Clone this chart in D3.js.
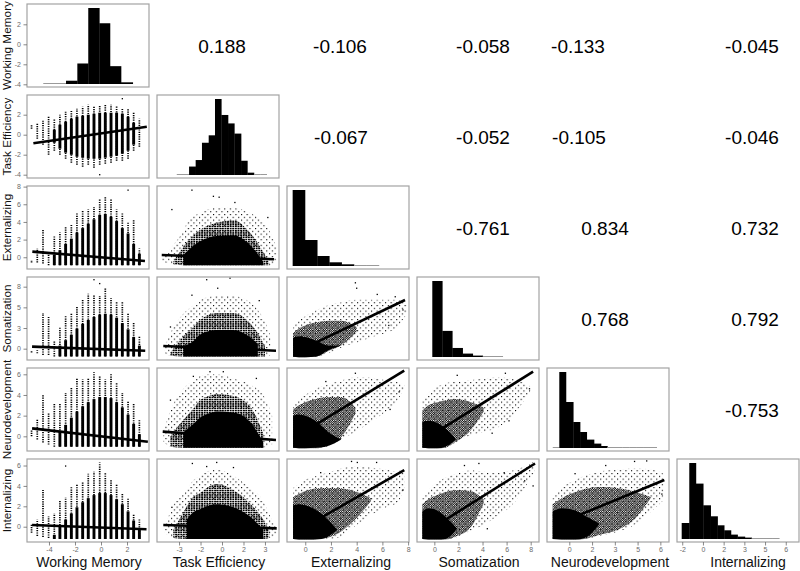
<!DOCTYPE html>
<html><head><meta charset="utf-8">
<script src="https://cdn.jsdelivr.net/npm/d3@7/dist/d3.min.js"></script>
<style>
body{margin:0;background:#fff}
svg{display:block}
text{font-family:"Liberation Sans",Arial,Helvetica,sans-serif}
</style>
</head><body>
<svg id="chart" width="800" height="571"></svg>
<script>
// ---------------- DATA ----------------
const VARS = ["Working Memory","Task Efficiency","Externalizing","Somatization","Neurodevelopment","Internalizing"];
const X_DOMAINS = [[-5.69,3.69],[-4.54,3.98],[-1.42,8.07],[-1.44,8.69],[-1.47,6.57],[-1.88,6.96]];
const Y_DOMAINS = [[-4.27,4.03],[-4.33,3.97],[-1.33,8.07],[-1.46,9.25],[-1.42,6.61],[-1.5,6.64]];
const X_TICKS = [[-4,-2,0,2],[-3,-1.5,0,1.5,3],[0,2,4,6,8],[0,2,4,6,8],[0,1.5,3,4.5,6],[-1.5,0,1.5,3,4.5,6]];
const X_TICK_LABELS = [["-4","-2","0","2"],["-3","-2","0","2","3"],["0","2","4","6","8"],["0","2","4","6","8"],["0","2","3","5","6"],["-2","0","2","3","5","6"]];
const Y_TICKS = [[-4,-2,0,2],[-4,-2,0,2],[0,2,4,6,8],[0,2.667,5.333,8],[0,2,4,6],[0,2,4,6]];
const Y_TICK_LABELS = [["-4","-2","0","2"],["-4","-2","0","2"],["0","2","4","6","8"],["0","3","5","8"],["0","2","4","6"],["0","2","4","6"]];

// correlations (upper triangle)
const CORR_ROW = [0,0,0,0,0, 1,1,1,1, 2,2,2, 3,3, 4];
const CORR_COL = [1,2,3,4,5, 2,3,4,5, 3,4,5, 4,5, 5];
const CORR_TXT = ["0.188","-0.106","-0.058","-0.133","-0.045","-0.067","-0.052","-0.105","-0.046","-0.761","0.834","0.732","0.768","0.792","-0.753"];

// histograms (diagonal): bin edges in variable units, relative frequencies
const HIST_EDGES = [
  [-4.44,-3.54,-2.69,-1.82,-0.98,-0.13,0.69,1.54,2.44],
  [-3.16,-2.74,-2.30,-1.84,-1.40,-0.93,-0.49,-0.05,0.42,0.86,1.33,1.77,2.23,2.67,3.12],
  [-0.98,-0.02,0.93,1.87,2.83,3.79,4.77,5.73],
  [-0.17,0.66,1.49,2.35,3.19,4.02,4.85,5.68],
  [-1.09,-0.66,-0.22,0.26,0.71,1.15,1.63,2.09,2.51,3.01,3.49,3.95,4.40,4.86,5.31,5.76],
  [-1.54,-0.99,-0.51,0.02,0.56,1.06,1.54,2.03,2.51,3.04,3.53,4.05,4.57,5.05,5.53]
];
const HIST_FREQ = [
  [0.3,0.9,3.3,20.7,76.7,61.3,18,1.7],
  [0.3,0.5,8.3,14.7,31.7,39,74.7,59,50.7,40.7,14,2.3,0.3,0.3],
  [76,26,10,3.7,1.7,0.7,0.3],
  [75.7,26,9,3.4,1.4,0.7,0.3],
  [0.3,76,46,26,16,8.4,4.4,2,1,0.5,0.3,0.3,0.2,0.2,0.2],
  [16,76,55.4,33.7,22.7,13.7,8.7,4.4,2.4,1.4,0.7,0.7,0.2,0.2]
];

// Working Memory takes discrete levels: column extents per row (rows 1..5)
const WM_LEVELS = [-5.34,-4.9,-4.46,-4.03,-3.59,-3.16,-2.72,-2.28,-1.85,-1.41,-0.98,-0.54,-0.1,0.33,0.77,1.2,1.64,2.08,2.51,2.95];
const WM_TE_top = [1.0,1.2,1.4,1.9,1.6,2.0,2.3,2.5,2.6,2.8,3.0,2.8,2.9,3.0,3.0,2.9,2.7,2.6,2.2,1.6];
const WM_TE_bot = [0.6,-0.4,-1.0,-2.0,-1.6,-2.0,-2.4,-2.8,-3.0,-3.2,-3.0,-3.3,-3.0,-2.9,-2.8,-2.6,-2.6,-2.4,-1.6,-1.2];
const WM_TE_dLo = [null,null,null,null,-0.8,-1.4,-1.8,-2.0,-2.2,-2.3,-2.4,-2.4,-2.4,-2.3,-2.2,-2.1,-1.9,-1.6,-1.0,null];
const WM_TE_dHi = [null,null,null,null,0.5,1.0,1.3,1.6,1.8,1.9,2.0,2.1,2.2,2.2,2.2,2.2,2.1,1.8,1.2,null];
const WM_EXT_top = [-0.3,1.0,3.2,0.6,2.4,2.8,3.4,3.8,5.1,5.3,5.4,5.7,6.6,6.8,6.6,5.4,5.0,3.9,4.3,1.0];
const WM_EXT_bot = [-0.6,-0.6,-0.7,-0.9,-0.9,-0.9,-0.9,-0.9,-0.9,-0.9,-0.9,-0.9,-0.9,-0.9,-0.9,-0.9,-0.9,-0.9,-0.9,-0.9];
const WM_EXT_dHi = [null,null,null,null,0.3,0.8,1.5,2.1,2.8,3.3,3.8,4.3,4.8,4.9,4.6,4.1,3.3,2.7,1.5,0.4];
const WM_SOM_top = [-0.2,-0.2,4.6,4.1,1.1,2.8,4.2,4.6,5.4,6.3,7.1,6.9,6.8,7.8,6.5,6.1,6.0,4.6,3.3,1.6];
const WM_SOM_bot = [-0.5,-0.6,-0.8,-0.8,-1.0,-1.0,-1.0,-1.0,-1.0,-1.0,-1.0,-1.0,-1.0,-1.0,-1.0,-1.0,-1.0,-1.0,-1.0,-1.0];
const WM_SOM_dHi = [null,null,null,null,null,0.4,1.1,1.8,2.6,3.2,3.7,4.1,4.4,4.5,4.4,4.0,3.3,2.5,1.5,0.4];
const WM_NEU_top = [0.6,1.6,4.0,2.2,3.2,3.2,4.2,4.7,5.6,5.5,5.6,6.2,5.8,5.5,6.1,5.2,4.2,3.4,3.2,1.6];
const WM_NEU_bot = [0.0,-0.3,-0.6,-0.8,-1.0,-1.0,-1.0,-1.0,-1.0,-1.0,-1.0,-1.0,-1.0,-1.0,-1.0,-1.0,-1.0,-1.0,-1.0,-1.0];
const WM_NEU_dHi = [null,null,null,null,null,0.5,1.1,1.8,2.4,2.9,3.3,3.6,3.8,3.8,3.7,3.3,2.8,2.1,1.2,0.2];
const WM_INT_top = [0.3,0.7,3.6,1.0,1.3,2.6,2.9,3.9,4.2,4.4,5.2,5.4,6.3,5.3,4.6,4.2,3.3,2.8,1.2,0.7];
const WM_INT_bot = [-0.6,-0.9,-1.0,-1.1,-1.2,-1.2,-1.2,-1.2,-1.2,-1.2,-1.2,-1.2,-1.2,-1.2,-1.2,-1.2,-1.2,-1.2,-1.2,-1.2];
const WM_INT_dHi = [null,null,null,null,-0.8,0.0,0.7,1.3,1.9,2.4,2.8,3.1,3.3,3.3,3.1,2.7,2.2,1.5,0.6,-0.2];

// point clouds: estimated envelopes (outer sparse, mid dense, core solid)
const cloud_TE_Ext = {row:2,col:1,
  x:     [-4.2,-3.4,-2.7,-2.4,-1.54,-0.37,0.79,1.95,2.88,3.3,3.8],
  outLo: [-0.5,-0.8,-0.9,-0.9,-0.9,-0.9,-0.9,-0.9,-0.9,-0.9,-0.6],
  outHi: [0.0,1.4,3.0,4.0,5.0,5.6,5.6,5.0,4.0,3.0,1.2],
  midLo: [null,-0.8,-0.9,-0.9,-0.9,-0.9,-0.9,-0.9,-0.9,-0.9,null],
  midHi: [null,-0.5,1.2,1.8,3.1,3.9,4.2,2.8,0.6,-0.6,null],
  coreLo:[null,null,-0.9,-0.9,-0.9,-0.9,-0.9,-0.9,-0.9,null,null],
  coreHi:[null,null,0.2,0.7,1.8,2.4,2.5,1.4,-0.5,null,null]};
const cloud_TE_Som = {row:3,col:1,
  x:     [-4.0,-3.6,-2.7,-2.0,-1.54,-0.37,0.79,1.95,2.5,3.0,3.4],
  outLo: [-0.6,-0.9,-1.0,-1.0,-1.0,-1.0,-1.0,-1.0,-1.0,-1.0,-0.8],
  outHi: [0.3,2.0,4.5,5.6,6.3,6.8,6.8,6.0,5.0,3.5,1.5],
  midLo: [null,-0.9,-1.0,-1.0,-1.0,-1.0,-1.0,-1.0,-1.0,-1.0,null],
  midHi: [null,-0.5,1.6,2.8,3.7,4.6,4.6,3.3,2.0,0.3,null],
  coreLo:[null,null,-1.0,-1.0,-1.0,-1.0,-1.0,-1.0,-1.0,null,null],
  coreHi:[null,null,0.3,1.0,1.8,2.4,2.4,1.5,0.6,null,null]};
const cloud_TE_Neu = {row:4,col:1,
  x:     [-4.1,-3.6,-2.7,-2.0,-1.54,-0.9,-0.37,0.79,1.95,2.88,3.5],
  outLo: [-0.5,-1.0,-1.1,-1.1,-1.1,-1.1,-1.1,-1.1,-1.1,-1.1,-0.8],
  outHi: [0.5,2.5,4.6,5.4,5.8,6.0,6.0,5.6,5.0,4.0,2.0],
  midLo: [null,-1.0,-1.1,-1.1,-1.1,-1.1,-1.1,-1.1,-1.1,-1.1,null],
  midHi: [null,0.0,1.6,2.7,3.5,3.9,4.1,3.9,2.9,0.3,null],
  coreLo:[null,null,-1.1,-1.1,-1.1,-1.1,-1.1,-1.1,-1.1,-1.1,null],
  coreHi:[null,null,0.4,1.2,1.8,2.2,2.4,2.3,1.4,-0.6,null]};
const cloud_TE_Int = {row:5,col:1,
  x:     [-4.0,-3.4,-2.46,-2.1,-1.54,-1.07,-0.37,0.79,1.95,2.88,3.3,3.8],
  outLo: [-0.6,-1.1,-1.2,-1.2,-1.2,-1.2,-1.2,-1.2,-1.2,-1.2,-1.1,-0.8],
  outHi: [0.0,2.1,3.6,4.4,5.0,5.4,5.6,5.0,3.8,2.5,1.2,-0.2],
  midLo: [null,-1.1,-1.2,-1.2,-1.2,-1.2,-1.2,-1.2,-1.2,-1.2,-1.1,null],
  midHi: [null,-0.3,2.0,2.8,3.3,3.8,4.2,3.6,2.3,0.7,-0.4,null],
  coreLo:[null,null,-1.2,-1.2,-1.2,-1.2,-1.2,-1.2,-1.2,-1.2,null,null],
  coreHi:[null,null,0.7,1.3,1.7,2.0,2.2,1.9,1.0,-0.3,null,null]};
const cloud_Ext_Som = {row:3,col:2,
  x:     [-0.95,-0.5,0.0,0.9,1.8,2.85,4.0,5.4,7.0,7.9],
  outLo: [-1.05,-1.1,-1.1,-1.05,-0.6,0.2,0.8,1.6,2.6,4.5],
  outHi: [2.8,3.6,4.2,5.0,5.6,6.0,6.3,6.3,6.3,6.0],
  midLo: [-1.05,-1.1,-1.1,-1.0,-0.3,0.5,2.2,null,null,null],
  midHi: [2.0,2.6,3.0,3.4,3.6,3.6,2.8,null,null,null],
  coreLo:[-1.05,-1.1,-1.1,-1.0,-0.2,0.4,null,null,null,null],
  coreHi:[1.4,1.6,1.5,1.0,0.4,0.4,null,null,null,null]};
const cloud_Ext_Neu = {row:4,col:2,
  x:     [-0.95,-0.5,0.0,0.8,1.7,2.8,3.9,5.0,5.9,7.0,7.7],
  outLo: [-1.1,-1.15,-1.15,-1.15,-1.0,-0.3,0.45,1.3,2.06,3.2,4.6],
  outHi: [3.0,3.6,4.0,4.6,5.0,5.4,5.7,5.7,5.5,5.3,5.0],
  midLo: [-1.1,-1.15,-1.15,-1.15,-0.9,-0.1,2.2,null,null,null,null],
  midHi: [2.6,3.0,3.3,3.6,3.8,3.8,2.8,null,null,null,null],
  coreLo:[-1.1,-1.15,-1.15,-1.1,-0.95,-0.3,null,null,null,null,null],
  coreHi:[2.0,2.1,2.0,1.5,0.5,-0.3,null,null,null,null,null]};
const cloud_Ext_Int = {row:5,col:2,
  x:     [-0.95,-0.5,0.0,1.25,2.5,3.8,5.1,6.3,7.1,7.7],
  outLo: [-1.2,-1.25,-1.25,-1.25,-1.1,0.0,1.15,1.9,2.3,3.6],
  outHi: [3.8,4.2,4.6,5.1,5.6,5.9,5.8,5.6,5.4,5.7],
  midLo: [-1.2,-1.25,-1.25,-1.2,-0.7,0.6,2.5,null,null,null],
  midHi: [2.9,3.2,3.5,3.8,3.8,3.5,2.8,null,null,null],
  coreLo:[-1.2,-1.25,-1.25,-1.2,-0.3,null,null,null,null,null],
  coreHi:[2.1,2.2,2.1,1.3,-0.3,null,null,null,null,null]};
const cloud_Som_Neu = {row:4,col:3,
  x:     [-1.0,-0.5,0.25,0.9,1.8,2.8,4.1,5.2,6.5,8.0],
  outLo: [-1.1,-1.15,-1.15,-1.1,-0.6,0.0,0.45,0.8,2.0,4.4],
  outHi: [3.5,4.2,4.8,5.1,5.3,5.4,5.6,5.7,5.6,4.8],
  midLo: [-1.1,-1.15,-1.15,-1.1,-0.5,0.3,2.4,null,null,null],
  midHi: [2.5,3.0,3.3,3.5,3.6,3.4,2.8,null,null,null],
  coreLo:[-1.1,-1.15,-1.15,-1.0,-0.3,null,null,null,null,null],
  coreHi:[1.4,1.5,1.3,0.8,-0.3,null,null,null,null,null]};
const cloud_Som_Int = {row:5,col:3,
  x:     [-1.0,-0.5,0.25,0.9,1.9,3.0,4.1,5.2,6.5,8.3],
  outLo: [-1.2,-1.25,-1.25,-1.25,-1.0,-0.4,0.2,1.0,2.2,5.4],
  outHi: [2.8,3.6,4.4,4.8,5.2,5.5,5.4,5.3,5.5,6.4],
  midLo: [-1.2,-1.25,-1.25,-1.25,-0.9,-0.1,2.3,null,null,null],
  midHi: [2.2,2.7,3.1,3.4,3.6,3.5,2.7,null,null,null],
  coreLo:[-1.2,-1.25,-1.25,-1.2,-0.2,null,null,null,null,null],
  coreHi:[1.5,1.8,1.6,1.0,-0.2,null,null,null,null,null]};
const cloud_Neu_Int = {row:5,col:4,
  x:     [-1.1,-0.5,0.4,1.0,2.0,3.2,4.4,5.4,6.2],
  outLo: [-1.2,-1.25,-1.25,-1.2,-0.9,-0.5,0.3,1.5,2.6],
  outHi: [2.8,3.8,4.6,5.0,5.4,5.6,5.7,5.6,5.2],
  midLo: [-1.2,-1.25,-1.25,-1.2,-0.8,-0.3,0.9,2.9,null],
  midHi: [2.2,2.8,3.4,3.7,3.9,3.8,3.4,2.9,null],
  coreLo:[-1.2,-1.25,-1.25,-1.1,0.3,null,null,null,null],
  coreHi:[1.5,1.8,1.6,1.1,0.3,null,null,null,null]};

// isolated points [row, col, x, y]
const OUTLIERS = [
  [1,0,1.64,3.6],[1,0,-0.1,-4.0],
  [2,0,2.08,7.6],
  [3,0,-0.54,8.9],[3,0,-0.1,8.4],
  [5,0,-2.72,5.95],
  [2,1,-2.1,7.6],[2,1,-0.6,6.9],[2,1,-0.2,6.8],[2,1,0.9,6.2],[2,1,-3.5,5.4],[2,1,3.2,4.5],
  [3,1,-1.07,8.9],[3,1,0.56,9.1],[3,1,-2.1,6.9],[3,1,-3.6,2.8],[3,1,-0.3,7.8],[3,1,2.6,6.2],
  [4,1,-0.84,6.25],[4,1,0.09,6.25],[4,1,-3.6,3.5],[4,1,-2.0,5.8],[4,1,2.4,5.6],
  [5,1,-2.07,6.2],[5,1,-0.37,6.3],[5,1,-1.07,5.9],[5,1,0.8,5.8],[5,1,-3.5,1.9],
  [3,2,3.9,8.5],[3,2,4.0,7.8],[3,2,5.6,7.0],[3,2,7.0,6.7],[3,2,6.5,3.0],[3,2,7.6,5.0],
  [4,2,3.9,6.1],[4,2,1.6,5.3],[4,2,7.3,4.3],[4,2,6.6,2.6],
  [5,2,3.6,6.4],[5,2,4.05,6.3],[5,2,5.55,6.3],[5,2,7.6,3.6],[5,2,1.2,5.3],
  [4,3,1.9,5.9],[4,3,5.9,6.1],[4,3,7.9,4.6],[4,3,6.2,1.5],[4,3,4.8,0.3],
  [5,3,2.5,6.0],[5,3,3.7,6.2],[5,3,5.8,5.3],[5,3,7.5,4.5],[5,3,8.2,4.0],[5,3,4.4,-0.2],
  [5,4,4.3,6.4],[5,4,5.1,6.45],[5,4,2.4,6.0],[5,4,6.1,3.2],[5,4,0.38,5.2]
];

// fitted lines [row, col, x0, y0, x1, y1]
const REG_LINES = [
  [1,0,-5.2,-0.86,3.52,0.8],
  [2,0,-5.28,0.64,3.38,-0.42],
  [3,0,-5.3,0.26,3.4,-0.26],
  [4,0,-5.3,0.77,3.6,-0.52],
  [5,0,-5.3,0.17,3.5,-0.25],
  [2,1,-4.21,0.26,3.63,-0.23],
  [3,1,-4.1,0.35,3.77,-0.26],
  [4,1,-4.14,0.45,3.77,-0.36],
  [5,1,-4.1,0.17,3.82,-0.16],
  [3,2,-0.9,-0.58,7.76,6.28],
  [4,2,-0.9,-0.18,7.7,6.35],
  [5,2,-0.9,-0.66,7.7,5.56],
  [4,3,-0.9,-0.36,8.2,6.25],
  [5,3,-0.9,-0.67,8.36,6.2],
  [5,4,-0.94,0.17,6.26,4.58]
];

// ---------------- LAYOUT / STYLE ----------------
const PW = 122, PH = 83;
const panelX = c => 27 + 130 * c;
const panelY = r => 4 + 91 * r;
const CORR_DX = [4,-8,5,-30,14, -7,5,-29,14, 5,-3,17, -3,17, 14];
const XTITLE_DX = [1,1,3,1,2,10];
const BORDER = "#a3a3a3";
const TICK_COLOR = "#6a6a6a";

const svg = d3.select("#chart");
svg.append("rect").attr("width",800).attr("height",571).attr("fill","#fff");
const xS = X_DOMAINS.map(d => d3.scaleLinear().domain(d).range([0, PW]));
const yS = Y_DOMAINS.map(d => d3.scaleLinear().domain(d).range([PH, 0]));

const defs = svg.append("defs");
function dotPattern(id, size, dot) {
  const p = defs.append("pattern").attr("id", id).attr("patternUnits", "userSpaceOnUse")
    .attr("width", size).attr("height", size);
  p.append("rect").attr("x", 0).attr("y", 0).attr("width", dot).attr("height", dot).attr("fill", "#000");
  p.append("rect").attr("x", size / 2).attr("y", size / 2).attr("width", dot).attr("height", dot).attr("fill", "#000");
}
dotPattern("sparse", 5.6, 1.1);
dotPattern("mid", 2.3, 1.3);
const stripe = defs.append("pattern").attr("id", "stripes").attr("patternUnits", "userSpaceOnUse")
  .attr("width", 2.6).attr("height", 2.2);
stripe.append("rect").attr("x", 0).attr("y", 0).attr("width", 1.9).attr("height", 1.6).attr("fill", "#000");

function panelGroup(r, c) {
  const id = `clip-${r}-${c}`;
  defs.append("clipPath").attr("id", id).append("rect").attr("width", PW).attr("height", PH);
  const g = svg.append("g").attr("transform", `translate(${panelX(c)},${panelY(r)})`);
  const inner = g.append("g").attr("clip-path", `url(#${id})`);
  return {g, inner};
}
function border(g) {
  g.append("rect").attr("x", 0).attr("y", 0).attr("width", PW).attr("height", PH)
    .attr("fill", "none").attr("stroke", BORDER).attr("stroke-width", 1.2);
}

const panels = {};
for (let r = 0; r < 6; r++) for (let c = 0; c <= r; c++) panels[r + "-" + c] = panelGroup(r, c);

// ---- diagonal histograms ----
for (let k = 0; k < 6; k++) {
  const {inner} = panels[k + "-" + k];
  const edges = HIST_EDGES[k], freq = HIST_FREQ[k];
  const hy = d3.scaleLinear().domain([0, d3.max(freq)]).range([PH - 3, 4]);
  inner.selectAll("rect.bar").data(freq).join("rect").attr("class", "bar")
    .attr("x", (d, i) => xS[k](edges[i]))
    .attr("width", (d, i) => xS[k](edges[i + 1]) - xS[k](edges[i]) + 0.3)
    .attr("y", d => Math.min(hy(d), hy(0) - 1))
    .attr("height", d => Math.max(1, hy(0) - hy(d)))
    .attr("fill", d => (hy(0) - hy(d)) < 1.2 ? "#9a9a9a" : "#000");
}

// ---- Working Memory column panels ----
const WM_ROWS = [
  {row:1, top:WM_TE_top, bot:WM_TE_bot, dLo:WM_TE_dLo, dHi:WM_TE_dHi},
  {row:2, top:WM_EXT_top, bot:WM_EXT_bot, dLo:null, dHi:WM_EXT_dHi},
  {row:3, top:WM_SOM_top, bot:WM_SOM_bot, dLo:null, dHi:WM_SOM_dHi},
  {row:4, top:WM_NEU_top, bot:WM_NEU_bot, dLo:null, dHi:WM_NEU_dHi},
  {row:5, top:WM_INT_top, bot:WM_INT_bot, dLo:null, dHi:WM_INT_dHi}
];
WM_ROWS.forEach(s => {
  const {inner} = panels[s.row + "-0"];
  const xs = xS[0], ys = yS[s.row];
  const idx = d3.range(WM_LEVELS.length);
  inner.selectAll("line.sp").data(idx).join("line").attr("class", "sp")
    .attr("x1", i => xs(WM_LEVELS[i])).attr("x2", i => xs(WM_LEVELS[i]))
    .attr("y1", i => ys(s.bot[i])).attr("y2", i => ys(s.top[i]))
    .attr("stroke", "#000").attr("stroke-width", 1.7).attr("stroke-dasharray", "1.2 1.1");
  inner.selectAll("line.md").data(idx.filter(i => s.dHi[i] != null)).join("line").attr("class", "md")
    .attr("x1", i => xs(WM_LEVELS[i])).attr("x2", i => xs(WM_LEVELS[i]))
    .attr("y1", i => ys(s.dLo ? s.dLo[i] : s.bot[i])).attr("y2", i => ys(s.dHi[i]))
    .attr("stroke", "#000").attr("stroke-width", 2.9);
});

// ---- continuous clouds ----
const CLOUDS = [cloud_TE_Ext, cloud_TE_Som, cloud_TE_Neu, cloud_TE_Int,
  cloud_Ext_Som, cloud_Ext_Neu, cloud_Ext_Int, cloud_Som_Neu, cloud_Som_Int, cloud_Neu_Int];
CLOUDS.forEach(cl => {
  const {inner} = panels[cl.row + "-" + cl.col];
  const xs = xS[cl.col], ys = yS[cl.row];
  const idx = d3.range(cl.x.length);
  const band = (lo, hi) => d3.area()
    .defined(i => lo[i] != null && hi[i] != null)
    .x(i => xs(cl.x[i])).y0(i => ys(lo[i])).y1(i => ys(hi[i]))
    .curve(d3.curveMonotoneX)(idx);
  inner.append("path").attr("d", band(cl.outLo, cl.outHi)).attr("fill", "url(#sparse)");
  inner.append("path").attr("d", band(cl.midLo, cl.midHi))
    .attr("fill", cl.col === 1 ? "url(#stripes)" : "url(#mid)");
  inner.append("path").attr("d", band(cl.coreLo, cl.coreHi)).attr("fill", "#000");
});

// ---- isolated points ----
OUTLIERS.forEach(([r, c, x, y]) => {
  panels[r + "-" + c].inner.append("rect")
    .attr("x", xS[c](x) - 0.65).attr("y", yS[r](y) - 0.65)
    .attr("width", 1.3).attr("height", 1.3).attr("fill", "#000");
});

// ---- fitted lines ----
REG_LINES.forEach(([r, c, x0, y0, x1, y1]) => {
  panels[r + "-" + c].inner.append("line")
    .attr("x1", xS[c](x0)).attr("y1", yS[r](y0))
    .attr("x2", xS[c](x1)).attr("y2", yS[r](y1))
    .attr("stroke", "#000").attr("stroke-width", 2.6);
});

// ---- borders ----
Object.values(panels).forEach(p => border(p.g));

// ---- correlations ----
CORR_TXT.forEach((t, i) => {
  const r = CORR_ROW[i], c = CORR_COL[i];
  svg.append("text")
    .attr("x", panelX(c) + PW / 2 + CORR_DX[i]).attr("y", panelY(r) + PH / 2 + 7)
    .attr("text-anchor", "middle").attr("font-size", 19).attr("fill", "#000").text(t);
});

// ---- axes ----
for (let r = 0; r < 6; r++) {
  const ax = d3.axisLeft(yS[r]).tickValues(Y_TICKS[r])
    .tickFormat((d, i) => Y_TICK_LABELS[r][i]).tickSize(3.5).tickPadding(2.5);
  const g = svg.append("g").attr("transform", `translate(${panelX(0)},${panelY(r)})`).call(ax);
  g.select(".domain").remove();
  g.selectAll("line").attr("stroke", TICK_COLOR).attr("stroke-width", 0.8);
  g.selectAll("text").attr("fill", TICK_COLOR).attr("font-size", 7)
    .attr("font-family", "'Liberation Sans', Arial, sans-serif");
}
for (let c = 0; c < 6; c++) {
  const ax = d3.axisBottom(xS[c]).tickValues(X_TICKS[c])
    .tickFormat((d, i) => X_TICK_LABELS[c][i]).tickSize(3.5).tickPadding(1.5);
  const g = svg.append("g").attr("transform", `translate(${panelX(c)},${panelY(5) + PH})`).call(ax);
  g.select(".domain").remove();
  g.selectAll("line").attr("stroke", TICK_COLOR).attr("stroke-width", 0.8);
  g.selectAll("text").attr("fill", TICK_COLOR).attr("font-size", 7)
    .attr("font-family", "'Liberation Sans', Arial, sans-serif");
}

// ---- titles ----
VARS.forEach((v, k) => {
  svg.append("text")
    .attr("transform", `translate(10.5,${panelY(k) + PH / 2}) rotate(-90)`)
    .attr("text-anchor", "middle").attr("font-size", 11.8).attr("fill", "#111").text(v);
  svg.append("text")
    .attr("x", panelX(k) + PW / 2 + XTITLE_DX[k]).attr("y", 567)
    .attr("text-anchor", "middle").attr("font-size", 14).attr("fill", "#111").text(v);
});
</script>
</body></html>
